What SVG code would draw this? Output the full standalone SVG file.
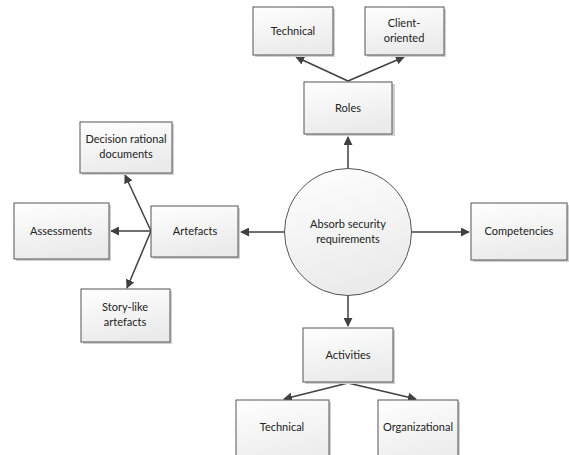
<svg xmlns="http://www.w3.org/2000/svg" width="569" height="455" viewBox="0 0 569 455">
<style>
.box{fill:url(#g);stroke:#555;stroke-width:1}
.sh{fill:#d0d0d0}
.t{font-family:Lato,"Liberation Sans",sans-serif;font-size:11px;fill:#222;text-anchor:middle}
.c{fill:none;stroke:#404040;stroke-width:1.5}
.a{fill:none;stroke:#404040;stroke-width:1.5;marker-end:url(#ah)}
</style>
<defs>
<linearGradient id="g" x1="0" y1="0" x2="0.3" y2="1">
<stop offset="0" stop-color="#ffffff"/>
<stop offset="1" stop-color="#ebebeb"/>
</linearGradient>
<marker id="ah" viewBox="0 0 10 10" refX="9" refY="5" markerWidth="6" markerHeight="6" orient="auto" markerUnits="strokeWidth">
<path d="M0,0 L10,5 L0,10 z" fill="#404040"/>
</marker>
</defs>
<rect width="569" height="455" fill="#fff"/>
<g id="connectors">
<line class="a" x1="348" y1="168" x2="348" y2="137"/>
<line class="a" x1="348" y1="81" x2="296" y2="57"/>
<line class="a" x1="348" y1="81" x2="404" y2="57"/>
<line class="a" x1="412" y1="232" x2="469" y2="232"/>
<line class="a" x1="285" y1="232" x2="241" y2="232"/>
<line class="a" x1="348" y1="296" x2="348" y2="326"/>
<line class="a" x1="348" y1="383" x2="284" y2="399"/>
<line class="a" x1="348" y1="383" x2="416" y2="399"/>
<line class="a" x1="151" y1="231" x2="111" y2="231"/>
<line class="a" x1="151" y1="231" x2="125" y2="175"/>
<line class="a" x1="151" y1="231" x2="127" y2="288"/>
</g>
<g id="center">
<circle cx="348" cy="232" r="63.5" fill="url(#g)" stroke="#555" stroke-width="1"/>
<text class="t" x="348" y="228">Absorb security</text>
<text class="t" x="348" y="243">requirements</text>
</g>
<g id="roles">
<rect class="sh" x="306" y="84" width="89" height="52"/>
<rect class="box" x="304" y="82" width="88" height="52"/>
<text class="t" x="348" y="112">Roles</text>
</g>
<g id="technical-top">
<rect class="sh" x="255" y="9" width="80" height="48"/>
<rect class="box" x="253" y="7" width="80" height="48"/>
<text class="t" x="293" y="35">Technical</text>
</g>
<g id="client-oriented">
<rect class="sh" x="367" y="9" width="79" height="48"/>
<rect class="box" x="365" y="7" width="79" height="48"/>
<text class="t" x="404" y="27">Client-</text>
<text class="t" x="404" y="42">oriented</text>
</g>
<g id="competencies">
<rect class="sh" x="473" y="205" width="96" height="57"/>
<rect class="box" x="471" y="203" width="96" height="57"/>
<text class="t" x="519" y="235">Competencies</text>
</g>
<g id="artefacts">
<rect class="sh" x="153" y="208" width="87" height="51"/>
<rect class="box" x="151" y="206" width="87" height="51"/>
<text class="t" x="195" y="235">Artefacts</text>
</g>
<g id="decision">
<rect class="sh" x="82" y="124" width="92" height="51"/>
<rect class="box" x="80" y="122" width="92" height="51"/>
<text class="t" x="126" y="143">Decision rational</text>
<text class="t" x="126" y="158">documents</text>
</g>
<g id="assessments">
<rect class="sh" x="16" y="205" width="95" height="56"/>
<rect class="box" x="14" y="203" width="95" height="56"/>
<text class="t" x="61" y="235">Assessments</text>
</g>
<g id="story-like">
<rect class="sh" x="83" y="291" width="89" height="53"/>
<rect class="box" x="81" y="289" width="89" height="53"/>
<text class="t" x="125" y="311">Story-like</text>
<text class="t" x="125" y="326">artefacts</text>
</g>
<g id="activities">
<rect class="sh" x="305" y="330" width="90" height="54"/>
<rect class="box" x="303" y="328" width="90" height="54"/>
<text class="t" x="348" y="359">Activities</text>
</g>
<g id="technical-bottom">
<rect class="sh" x="238" y="402" width="93" height="70"/>
<rect class="box" x="236" y="400" width="93" height="70"/>
<text class="t" x="282" y="431">Technical</text>
</g>
<g id="organizational">
<rect class="sh" x="380" y="402" width="80" height="70"/>
<rect class="box" x="378" y="400" width="80" height="70"/>
<text class="t" x="418" y="431">Organizational</text>
</g>
</svg>
